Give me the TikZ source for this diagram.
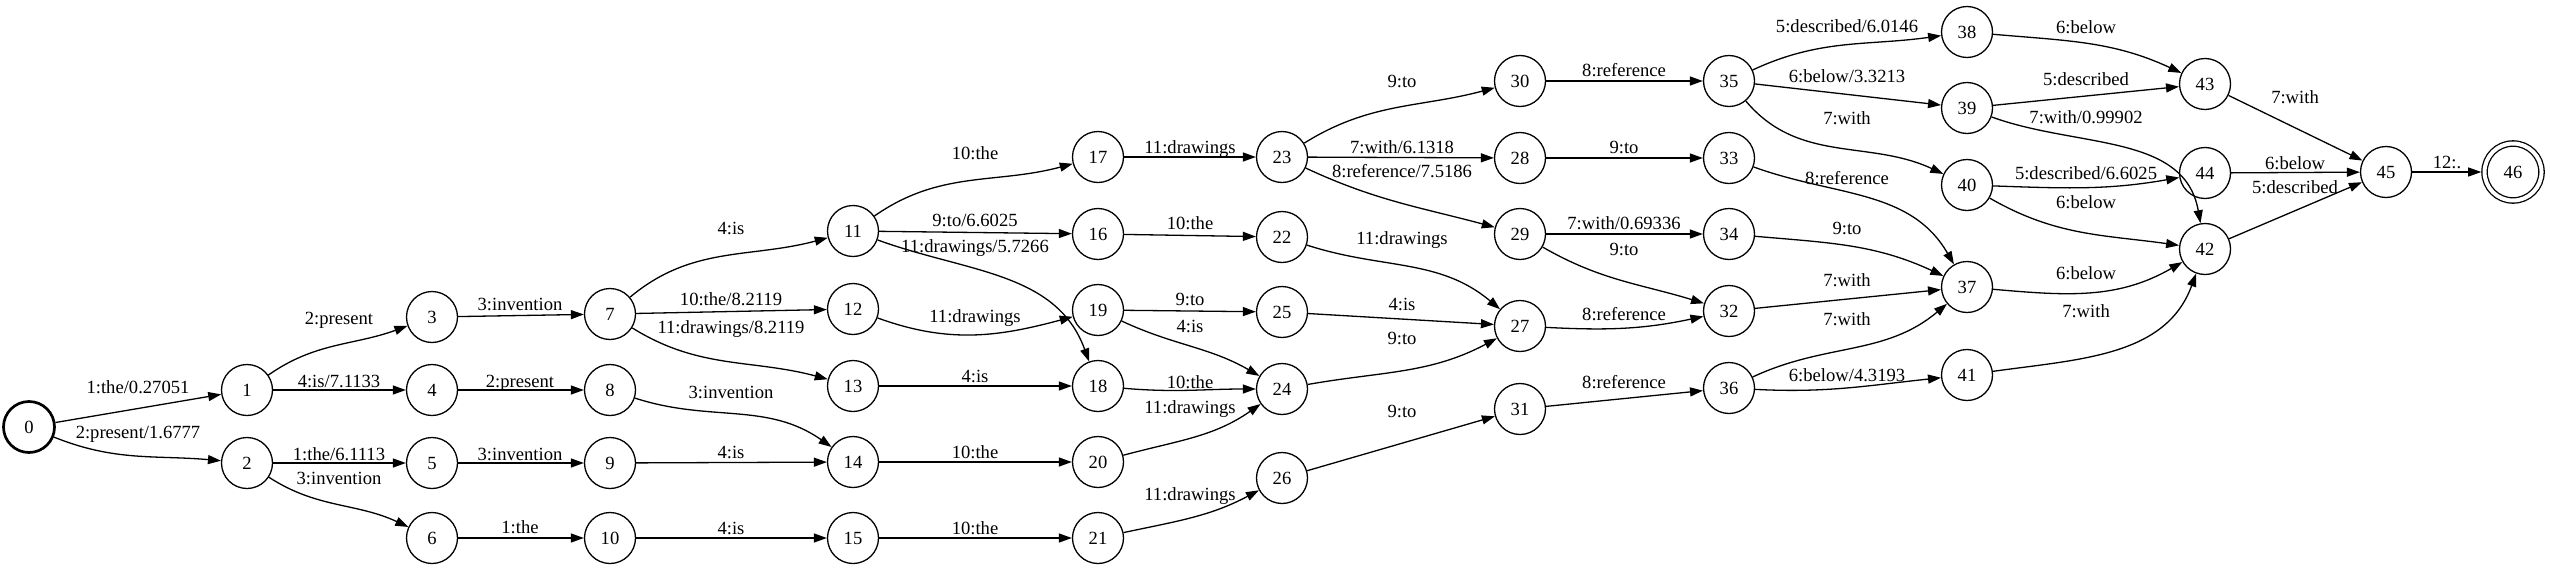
\documentclass[tikz,border=0pt]{standalone}
\usepackage{fontspec}
\setmainfont{Liberation Serif}
\usepackage{tikz}
\usetikzlibrary{arrows.meta}

\tikzset{
  state/.style={circle, draw, line width=1.3pt, minimum size=51pt, inner sep=0pt,
    font=\fontsize{18.6}{22}\selectfont},
  start/.style={state, line width=2.7pt},
  final/.style={state, double, double distance=4pt, minimum size=57pt, outer sep=3.3pt},
  lbl/.style={inner sep=0pt, text height=10pt, text depth=0pt,
    font=\fontsize{18.6}{22}\selectfont},
  edge/.style={line width=1.3pt, -{Triangle[length=13pt,width=9pt]}}
}

\begin{document}
\begin{tikzpicture}[x=1pt,y=-1pt]
	\useasboundingbox (0,0) rectangle (2550,570);
	% states
	\node[start] (s0) at (29,427) {0};
	\node[state] (s1) at (247,390) {1};
	\node[state] (s2) at (247,463) {2};
	\node[state] (s3) at (432,317) {3};
	\node[state] (s4) at (432,390) {4};
	\node[state] (s5) at (432,463) {5};
	\node[state] (s6) at (432,538) {6};
	\node[state] (s7) at (610,314) {7};
	\node[state] (s8) at (610,390) {8};
	\node[state] (s9) at (610,463) {9};
	\node[state] (s10) at (610,538) {10};
	\node[state] (s11) at (853,231) {11};
	\node[state] (s12) at (853,309) {12};
	\node[state] (s13) at (853,386) {13};
	\node[state] (s14) at (853,462) {14};
	\node[state] (s15) at (853,538) {15};
	\node[state] (s17) at (1098,157) {17};
	\node[state] (s16) at (1098,234) {16};
	\node[state] (s19) at (1098,310) {19};
	\node[state] (s18) at (1098,386) {18};
	\node[state] (s20) at (1098,462) {20};
	\node[state] (s21) at (1098,538) {21};
	\node[state] (s23) at (1282,157) {23};
	\node[state] (s22) at (1282,237) {22};
	\node[state] (s25) at (1282,312) {25};
	\node[state] (s24) at (1282,389) {24};
	\node[state] (s26) at (1282,478) {26};
	\node[state] (s30) at (1520,81) {30};
	\node[state] (s28) at (1520,158) {28};
	\node[state] (s29) at (1520,234) {29};
	\node[state] (s27) at (1520,326) {27};
	\node[state] (s31) at (1520,409) {31};
	\node[state] (s35) at (1729,81) {35};
	\node[state] (s33) at (1729,158) {33};
	\node[state] (s34) at (1729,234) {34};
	\node[state] (s32) at (1729,311) {32};
	\node[state] (s36) at (1729,388) {36};
	\node[state] (s38) at (1967,32) {38};
	\node[state] (s39) at (1967,108) {39};
	\node[state] (s40) at (1967,185) {40};
	\node[state] (s37) at (1967,287) {37};
	\node[state] (s41) at (1967,375) {41};
	\node[state] (s43) at (2205,84) {43};
	\node[state] (s44) at (2205,173) {44};
	\node[state] (s42) at (2205,249) {42};
	\node[state] (s45) at (2386,172) {45};
	\node[final] (s46) at (2513,172) {46};
	% transitions
	\draw[edge] (s0) -- (s1);
	\draw[edge] (s0) to[out=-22,in=175] (s2);
	\draw[edge] (s1) to[out=35,in=200] (s3);
	\draw[edge] (s1) -- (s4);
	\draw[edge] (s2) -- (s5);
	\draw[edge] (s2) to[out=-33,in=155] (s6);
	\draw[edge] (s3) -- (s7);
	\draw[edge] (s4) -- (s8);
	\draw[edge] (s5) -- (s9);
	\draw[edge] (s6) -- (s10);
	\draw[edge] (s7) to[out=40,in=195] (s11);
	\draw[edge] (s7) -- (s12);
	\draw[edge] (s7) to[out=-32,in=165] (s13);
	\draw[edge] (s8) to[out=-18,in=145] (s14);
	\draw[edge] (s9) -- (s14);
	\draw[edge] (s10) -- (s15);
	\draw[edge] (s11) to[out=35,in=195] (s17);
	\draw[edge] (s11) -- (s16);
	\draw[edge] (s11) to[out=-20,in=110] (s18);
	\draw[edge] (s12) to[out=-20,in=195] (s19);
	\draw[edge] (s13) -- (s18);
	\draw[edge] (s14) -- (s20);
	\draw[edge] (s15) -- (s21);
	\draw[edge] (s17) -- (s23);
	\draw[edge] (s16) -- (s22);
	\draw[edge] (s19) -- (s25);
	\draw[edge] (s19) to[out=-25,in=150] (s24);
	\draw[edge] (s18) to[out=-5,in=180] (s24);
	\draw[edge] (s20) to[out=15,in=215] (s24);
	\draw[edge] (s21) to[out=12,in=208] (s26);
	\draw[edge] (s23) to[out=32,in=195] (s30);
	\draw[edge] (s23) -- (s28);
	\draw[edge] (s23) to[out=-25,in=165] (s29);
	\draw[edge] (s22) to[out=-18,in=140] (s27);
	\draw[edge] (s25) -- (s27);
	\draw[edge] (s24) to[out=10,in=208] (s27);
	\draw[edge] (s26) -- (s31);
	\draw[edge] (s30) -- (s35);
	\draw[edge] (s28) -- (s33);
	\draw[edge] (s29) -- (s34);
	\draw[edge] (s29) to[out=-30,in=163] (s32);
	\draw[edge] (s27) to[out=-3,in=192] (s32);
	\draw[edge] (s31) -- (s36);
	\draw[edge] (s35) to[out=25,in=188] (s38);
	\draw[edge] (s35) -- (s39);
	\draw[edge] (s35) to[out=-50,in=155] (s40);
	\draw[edge] (s33) to[out=-20,in=120] (s37);
	\draw[edge] (s34) to[out=-5,in=155] (s37);
	\draw[edge] (s32) -- (s37);
	\draw[edge] (s36) to[out=25,in=220] (s37);
	\draw[edge] (s36) to[out=-3,in=186] (s41);
	\draw[edge] (s38) to[out=-5,in=155] (s43);
	\draw[edge] (s39) -- (s43);
	\draw[edge] (s39) to[out=-20,in=100] (s42);
	\draw[edge] (s40) to[out=-2,in=190] (s44);
	\draw[edge] (s40) to[out=-30,in=172] (s42);
	\draw[edge] (s37) to[out=-5,in=210] (s42);
	\draw[edge] (s41) to[out=8,in=250] (s42);
	\draw[edge] (s43) -- (s45);
	\draw[edge] (s44) -- (s45);
	\draw[edge] (s42) -- (s45);
	\draw[edge] (s45) -- (s46);
	% labels
	\node[lbl] (l0-1) at (138,388) {1:the/0.27051};
	\node[lbl] (l0-2) at (138,433) {2:present/1.6777};
	\node[lbl] (l1-3) at (339,319) {2:present};
	\node[lbl] (l1-4) at (339,382) {4:is/7.1133};
	\node[lbl] (l2-5) at (339,455) {1:the/6.1113};
	\node[lbl] (l2-6) at (339,479) {3:invention};
	\node[lbl] (l3-7) at (520,305) {3:invention};
	\node[lbl] (l4-8) at (520,382) {2:present};
	\node[lbl] (l5-9) at (520,455) {3:invention};
	\node[lbl] (l6-10) at (520,528) {1:the};
	\node[lbl] (l7-11) at (731,229) {4:is};
	\node[lbl] (l7-12) at (731,300) {10:the/8.2119};
	\node[lbl] (l7-13) at (731,328) {11:drawings/8.2119};
	\node[lbl] (l8-14) at (731,393) {3:invention};
	\node[lbl] (l9-14) at (731,453) {4:is};
	\node[lbl] (l10-15) at (731,529) {4:is};
	\node[lbl] (l11-17) at (975,154) {10:the};
	\node[lbl] (l11-16) at (975,221) {9:to/6.6025};
	\node[lbl] (l11-18) at (975,247) {11:drawings/5.7266};
	\node[lbl] (l12-19) at (975,317) {11:drawings};
	\node[lbl] (l13-18) at (975,377) {4:is};
	\node[lbl] (l14-20) at (975,453) {10:the};
	\node[lbl] (l15-21) at (975,529) {10:the};
	\node[lbl] (l17-23) at (1190,148) {11:drawings};
	\node[lbl] (l16-22) at (1190,224) {10:the};
	\node[lbl] (l19-25) at (1190,300) {9:to};
	\node[lbl] (l19-24) at (1190,327) {4:is};
	\node[lbl] (l18-24) at (1190,383) {10:the};
	\node[lbl] (l20-24) at (1190,408) {11:drawings};
	\node[lbl] (l21-26) at (1190,495) {11:drawings};
	\node[lbl] (l23-30) at (1402,82) {9:to};
	\node[lbl] (l23-28) at (1402,148) {7:with/6.1318};
	\node[lbl] (l23-29) at (1402,172) {8:reference/7.5186};
	\node[lbl] (l22-27) at (1402,239) {11:drawings};
	\node[lbl] (l25-27) at (1402,305) {4:is};
	\node[lbl] (l24-27) at (1402,339) {9:to};
	\node[lbl] (l26-31) at (1402,412) {9:to};
	\node[lbl] (l30-35) at (1624,71) {8:reference};
	\node[lbl] (l28-33) at (1624,148) {9:to};
	\node[lbl] (l29-34) at (1624,224) {7:with/0.69336};
	\node[lbl] (l29-32) at (1624,250) {9:to};
	\node[lbl] (l27-32) at (1624,315) {8:reference};
	\node[lbl] (l31-36) at (1624,383) {8:reference};
	\node[lbl] (l35-38) at (1847,27) {5:described/6.0146};
	\node[lbl] (l35-39) at (1847,77) {6:below/3.3213};
	\node[lbl] (l35-40) at (1847,119) {7:with};
	\node[lbl] (l33-37) at (1847,179) {8:reference};
	\node[lbl] (l34-37) at (1847,229) {9:to};
	\node[lbl] (l32-37) at (1847,281) {7:with};
	\node[lbl] (l36-37) at (1847,320) {7:with};
	\node[lbl] (l36-41) at (1847,376) {6:below/4.3193};
	\node[lbl] (l38-43) at (2086,28) {6:below};
	\node[lbl] (l39-43) at (2086,80) {5:described};
	\node[lbl] (l39-42) at (2086,118) {7:with/0.99902};
	\node[lbl] (l40-44) at (2086,174) {5:described/6.6025};
	\node[lbl] (l40-42) at (2086,203) {6:below};
	\node[lbl] (l37-42) at (2086,274) {6:below};
	\node[lbl] (l41-42) at (2086,312) {7:with};
	\node[lbl] (l43-45) at (2295,98) {7:with};
	\node[lbl] (l44-45) at (2295,164) {6:below};
	\node[lbl] (l42-45) at (2295,188) {5:described};
	\node[lbl] (l45-46) at (2447,163) {12:.};
\end{tikzpicture}
\end{document}
